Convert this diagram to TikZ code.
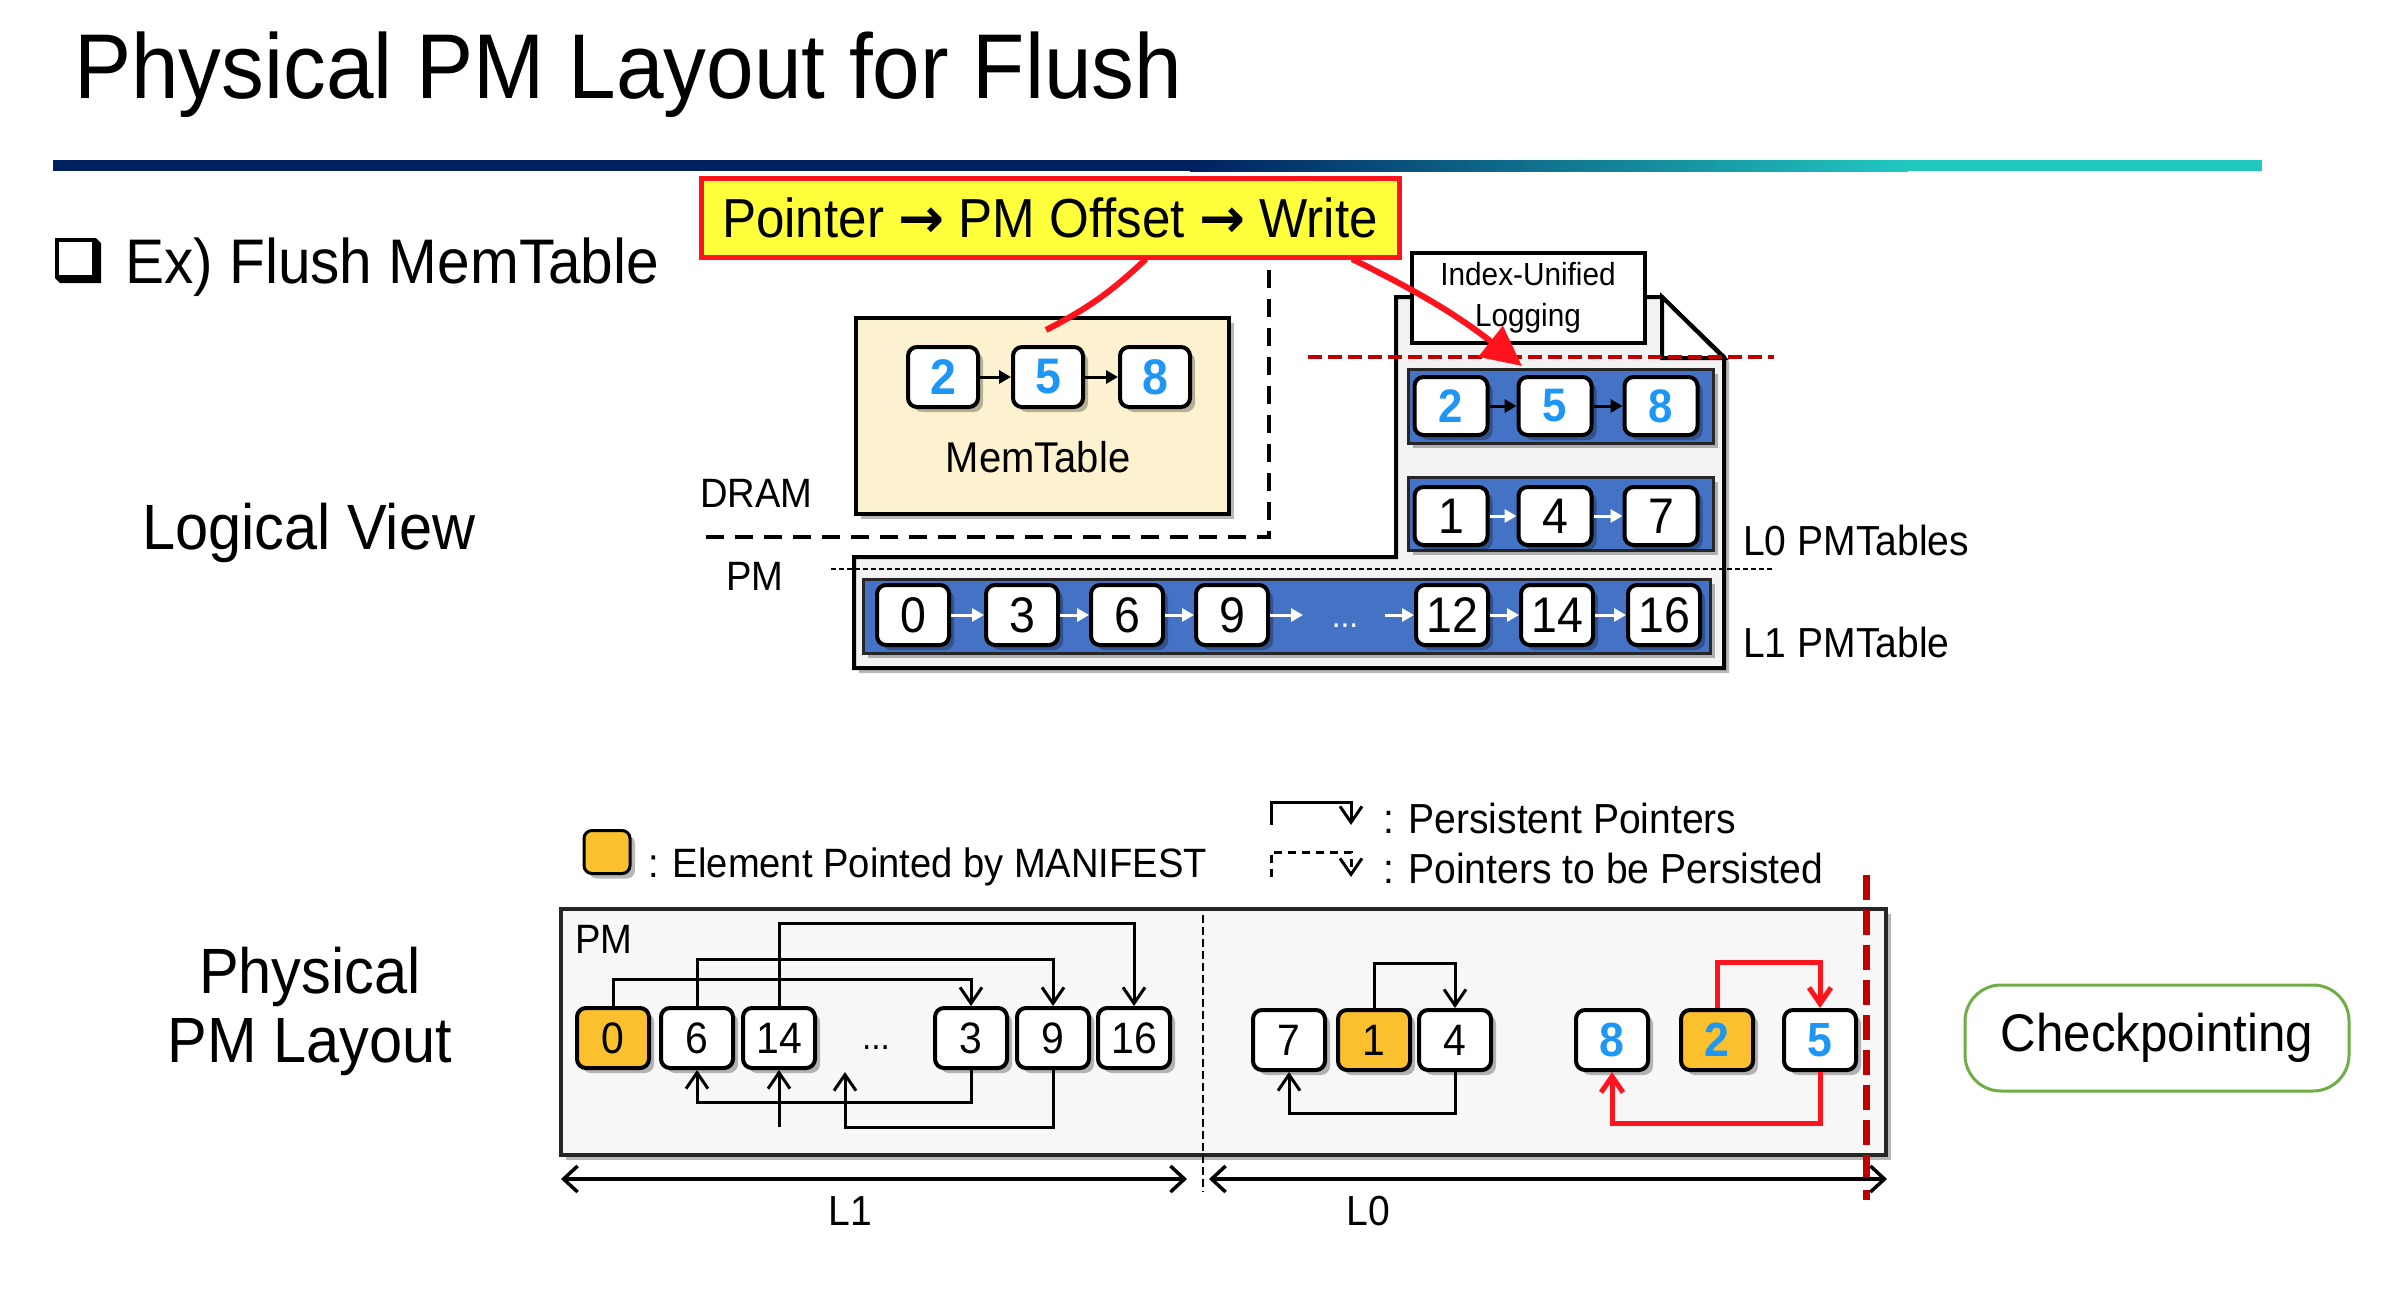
\documentclass[tikz,border=0pt]{standalone}
\usepackage{fontspec}
\setmainfont{Liberation Sans}[FakeStretch=0.93]
\newfontfamily\arrowfont{DejaVu Sans}
\usetikzlibrary{arrows.meta,shadows,calc}
\newcommand\myfs[1]{\fontsize{#1}{#1}\selectfont}
\definecolor{navy}{RGB}{0,32,96}
\definecolor{teal2}{RGB}{33,200,192}
\definecolor{nblue}{RGB}{30,150,245}
\definecolor{tblue}{RGB}{68,114,196}
\definecolor{morange}{RGB}{251,192,45}
\definecolor{cream}{RGB}{253,242,208}
\definecolor{dred}{RGB}{192,0,0}
\definecolor{bred}{RGB}{255,20,30}
\definecolor{yel}{RGB}{255,255,60}
\definecolor{cgreen}{RGB}{112,173,71}
\definecolor{docgray}{RGB}{242,242,242}
\definecolor{pmgray}{RGB}{247,247,247}
\tikzset{
  shd/.style={drop shadow={shadow xshift=5pt,shadow yshift=-5pt,opacity=0.28,fill=black}},
  numbox/.style={rectangle,rounded corners=9pt,draw=black,line width=4pt,fill=white,minimum width=72pt,minimum height=60pt,inner sep=0pt,shd},
  bignum/.style={numbox,font=\myfs{50}},
  bluenum/.style={numbox,font=\bfseries\myfs{47},text=nblue},
  lonum/.style={numbox,font=\myfs{44}},
  loblue/.style={numbox,font=\bfseries\myfs{48},text=nblue},
  tbl/.style={draw=black!85,line width=3pt,fill=tblue,shd},
  warr/.style={white,line width=3pt,-{Triangle[length=12pt,width=13pt]}},
  barr/.style={black,line width=3pt,-{Triangle[length=12pt,width=13pt]}},
  pp/.style={line width=3pt,-{Straight Barb[length=16pt,width=22pt]}},
  rp/.style={pp,draw=bred,line width=5pt},
  txt/.style={inner sep=0pt,anchor=base west},
  ctxt/.style={inner sep=0pt,anchor=base},
}
\begin{document}
\begin{tikzpicture}[x=1pt,y=-1pt]
\useasboundingbox (0,0) rectangle (2392,1290);

% title and bar
\node[txt,font=\myfs{92}] (title) at (74,98) {Physical PM Layout for Flush};
\fill[navy] (53,160) rectangle (1191,171);
\shade[left color=navy,right color=teal2] (1190,160) rectangle (1908,171);
\fill[teal2] (1907,160) rectangle (2262,171);

% checkbox + heading
\fill (55,238) -- (96,238) -- (101,243) -- (101,283) -- (60,283) -- (55,278) -- cycle;
\fill[white] (59,242) rectangle (92,275);
\node[txt,font=\myfs{63}] (ex) at (125,283) {Ex) Flush MemTable};

\node[txt,font=\myfs{64}] (lv) at (142,549) {Logical View};
\node[ctxt,font=\myfs{64}] (ph1) at (310,993) {Physical};
\node[ctxt,font=\myfs{64}] (ph2) at (310,1062) {PM Layout};

% ---------- Logical view ----------
% document shape
\draw[line width=4pt,fill=docgray,shd] (854,557) -- (854,668) -- (1724,668) -- (1724,357) -- (1662,297) -- (1396,297) -- (1396,557) -- cycle;
\draw[line width=4pt,fill=white,line join=miter] (1662,297) -- (1662,358) -- (1724,358) -- cycle;
\node[draw,line width=4pt,fill=white,minimum width=233pt,minimum height=90pt,align=center,font=\fontsize{32}{41}\selectfont] (iul) at (1528,298) {Index-Unified\\Logging};

\draw[line width=2pt,dash pattern=on 5pt off 3pt] (831,569) -- (1775,569);
\draw[dred,line width=4pt,dash pattern=on 14pt off 6pt] (1308,357) -- (1774,357);

% DRAM boundary
\draw[line width=4pt,dash pattern=on 18pt off 11pt] (1269,270) -- (1269,537) -- (697,537);
\node[txt,font=\myfs{41}] (dram) at (700,507) {DRAM};
\node[txt,font=\myfs{41}] (pmu) at (726,590) {PM};

% MemTable
\node[draw,line width=4pt,fill=cream,shd,minimum width=373pt,minimum height=196pt,inner sep=0pt,anchor=north west] (mem) at (854,316) {};
\node[bluenum,font=\bfseries\myfs{50},minimum width=70pt] (k2) at (943,377) {2};
\node[bluenum,font=\bfseries\myfs{50},minimum width=70pt] (k5) at (1048,377) {5};
\node[bluenum,font=\bfseries\myfs{50},minimum width=70pt] (k8) at (1155,377) {8};
\draw[barr] (k2) -- (k5);
\draw[barr] (k5) -- (k8);
\node[font=\myfs{43},inner sep=0pt] (memlbl) at (1038,457) {MemTable};

% L0 tables
\draw[tbl] (1408,369) rectangle (1713,443);
\draw[tbl] (1408,477) rectangle (1713,550);
\node[bluenum,minimum width=73pt,minimum height=58pt] (a2) at (1451,406) {2};
\node[bluenum,minimum width=73pt,minimum height=58pt] (a5) at (1555,406) {5};
\node[bluenum,minimum width=73pt,minimum height=58pt] (a8) at (1661,406) {8};
\draw[barr] (a2) -- (a5);
\draw[barr] (a5) -- (a8);
\node[bignum,minimum width=73pt,minimum height=58pt] (c1) at (1451,516) {1};
\node[bignum,minimum width=73pt,minimum height=58pt] (c4) at (1555,516) {4};
\node[bignum,minimum width=73pt,minimum height=58pt] (c7) at (1661,516) {7};
\draw[warr] (c1) -- (c4);
\draw[warr] (c4) -- (c7);

% L1 table
\draw[tbl] (863,579) rectangle (1710,653);
\node[bignum] (b0) at (913,615) {0};
\node[bignum] (b3) at (1022,615) {3};
\node[bignum] (b6) at (1127,615) {6};
\node[bignum] (b9) at (1232,615) {9};
\node[bignum] (b12) at (1452,615) {12};
\node[bignum] (b14) at (1557,615) {14};
\node[bignum] (b16) at (1664,615) {16};
\node[ctxt,font=\myfs{34},text=white] (bdots) at (1345,627) {...};
\coordinate (bd1) at (1303,615);
\coordinate (bd2) at (1385,615);
\draw[warr] (b0) -- (b3);
\draw[warr] (b3) -- (b6);
\draw[warr] (b6) -- (b9);
\draw[warr] (b9.east) -- (bd1);
\draw[warr] (bd2) -- (b12.west);
\draw[warr] (b12) -- (b14);
\draw[warr] (b14) -- (b16);

\node[txt,font=\myfs{42}] (l0lbl) at (1743,555) {L0 PMTables};
\node[txt,font=\myfs{42}] (l1lbl) at (1743,657) {L1 PMTable};

% yellow callout and red arrows
\node[draw=bred,line width=5pt,fill=yel,minimum width=698pt,minimum height=79pt,inner sep=0pt,font=\myfs{55}] (yb) at (1050,218) {Pointer {\arrowfont\bfseries →} PM Offset {\arrowfont\bfseries →} Write};
\coordinate (r1s) at (1146,259);
\coordinate (r1e) at (1046,330);
\coordinate (r2s) at (1352,259);
\coordinate (r2e) at (1522,366);
\draw[bred,line width=6pt] (r1s) to[bend left=8] (r1e);
\draw[bred,line width=6pt,-{Triangle[length=40pt,width=38pt]}] (r2s) to[bend left=6] (r2e);

% ---------- Physical layout ----------
\node[draw,line width=3pt,rounded corners=8pt,fill=morange,minimum width=46pt,minimum height=43pt,shd] (leg) at (607,852) {};
\node[txt,font=\myfs{41}] (legt) at (648,877) {: Element Pointed by MANIFEST};

\coordinate (lp1) at (1271,825);
\coordinate (lp2) at (1351,802);
\coordinate (lp3) at (1351,825);
\draw[pp] (lp1) |- (lp2) -- (lp3);
\coordinate (lq1) at (1271,877);
\coordinate (lq2) at (1351,852);
\coordinate (lq3) at (1351,877);
\draw[pp,dash pattern=on 8pt off 6pt] (lq1) |- (lq2) -- (lq3);
\node[txt,font=\myfs{42}] (lgt1) at (1383,833) {: Persistent Pointers};
\node[txt,font=\myfs{42}] (lgt2) at (1383,883) {: Pointers to be Persisted};

\node[draw=black!85,line width=4pt,fill=pmgray,shd,minimum width=1325pt,minimum height=246pt,inner sep=0pt,anchor=north west] (pmbox) at (559,907) {};
\node[txt,font=\myfs{41}] (pml) at (575,953) {PM};
\draw[line width=1.5pt,dash pattern=on 8pt off 4pt] (1203,915) -- (1203,1192);

\node[lonum,fill=morange] (n0) at (613,1038) {0};
\node[lonum] (n6) at (697,1038) {6};
\node[lonum] (n14) at (779,1038) {14};
\node[ctxt,font=\myfs{36}] (ndots) at (876,1049) {...};
\node[lonum] (n3) at (971,1038) {3};
\node[lonum] (n9) at (1053,1038) {9};
\node[lonum] (n16) at (1134,1038) {16};

\draw[pp] (n0.north) |- (800,979) -| (n3.north);
\draw[pp] (n6.north) |- (800,959) -| (n9.north);
\draw[pp] (n14.north) |- (900,923) -| (n16.north);
\draw[pp] (n3.south) |- (800,1102) -| (n6.south);
\coordinate (up1) at (845,1072);
\draw[pp] (n9.south) |- (900,1127) -| (up1);
\coordinate (up2) at (779,1127);
\draw[pp] (up2) -- (n14.south);

\node[lonum] (m7) at (1289,1040) {7};
\node[lonum,fill=morange] (m1) at (1374,1040) {1};
\node[lonum] (m4) at (1455,1040) {4};
\node[loblue] (m8) at (1612,1040) {8};
\node[loblue,fill=morange] (m2) at (1717,1040) {2};
\node[loblue] (m5) at (1820,1040) {5};

\draw[pp] (m1.north) |- (1400,963) -| (m4.north);
\draw[pp] (m4.south) |- (1400,1113) -| (m7.south);
\draw[rp] (m2.north) |- (1760,962) -| (m5.north);
\draw[rp] (m5.south) |- (1700,1123) -| (m8.south);

\draw[dred,line width=7pt,dash pattern=on 25pt off 10pt] (1866,875) -- (1866,1200);

\coordinate (d1a) at (561,1179);
\coordinate (d1b) at (1187,1179);
\coordinate (d2a) at (1209,1179);
\coordinate (d2b) at (1887,1179);
\draw[line width=3.5pt,{Straight Barb[length=14pt,width=26pt]}-{Straight Barb[length=14pt,width=26pt]}] (d1a) -- (d1b);
\draw[line width=3.5pt,{Straight Barb[length=14pt,width=26pt]}-{Straight Barb[length=14pt,width=26pt]}] (d2a) -- (d2b);
\node[ctxt,font=\myfs{42}] (l1d) at (850,1225) {L1};
\node[ctxt,font=\myfs{42}] (l0d) at (1368,1225) {L0};

\node[draw=cgreen,line width=3pt,rounded corners=36pt,fill=white,minimum width=384pt,minimum height=106pt,font=\myfs{53}] (cp) at (2157,1038) {Checkpointing};
\end{tikzpicture}
\end{document}
